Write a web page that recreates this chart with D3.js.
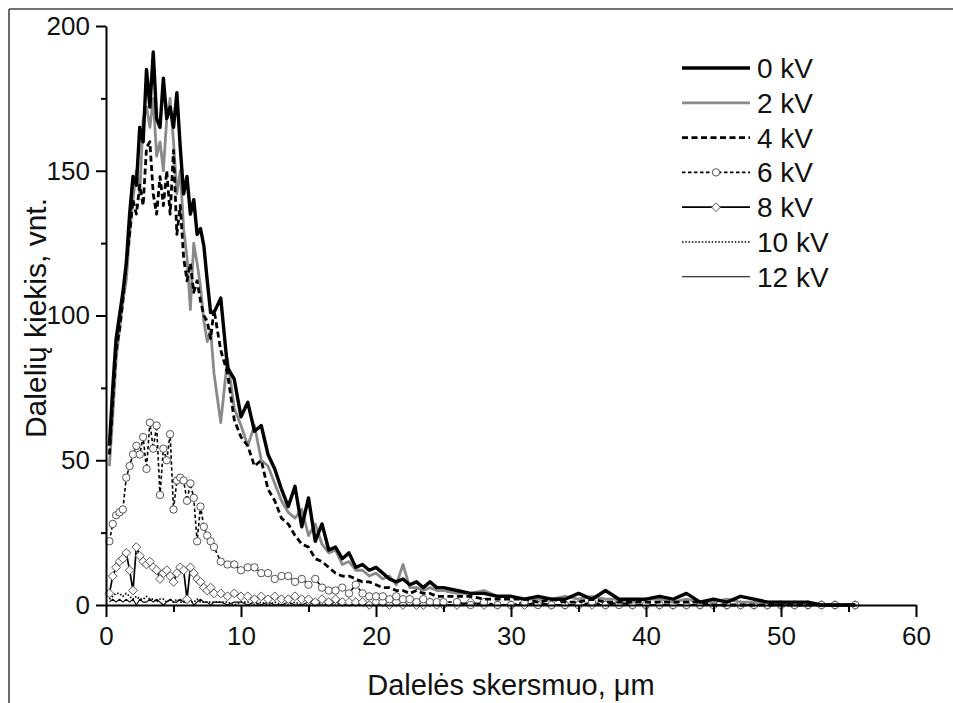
<!DOCTYPE html>
<html>
<head>
<meta charset="utf-8">
<script src="https://cdn.jsdelivr.net/npm/d3@7"></script>
<style>
  html, body { margin: 0; padding: 0; background: #fff; }
  svg text { font-family: "Liberation Sans", Arial, sans-serif; fill: #111; }
</style>
</head>
<body>
<svg id="chart" width="953" height="703"></svg>
<script>
// ---- data ----
const diameter = [0.25,0.5,0.75,1,1.25,1.5,1.75,2,2.25,2.5,2.75,3,3.25,3.5,3.75,4,4.25,4.5,4.75,5,5.25,5.5,5.75,6,6.25,6.5,6.75,7,7.25,7.5,7.75,8,
  8.5,9,9.5,10,10.5,11,11.5,12,12.5,13,13.5,14,14.5,15,15.5,16,16.5,17,17.5,18,18.5,19,19.5,20,20.5,21,21.5,22,22.5,23,23.5,24,24.5,25,
  26,27,28,29,30,31,32,33,34,35,36,37,38,39,40,41,42,43,44,45,46,47,48,49,50,51,52,53,54,55.5];

const kv0 = [55,75,92,100,108,118,135,148,145,165,160,185,172,191,168,165,182,168,172,165,177,158,142,148,135,140,128,130,124,112,101,101,
  106,82,78,65,70,60,62,52,47,40,34,41,27,37,22,28,19,20,16,18,13,14,12,13,11,9,8,9,7,8,6,8,6,6,
  5,4,4,3,3,2,3,2,2,4,2,5,2,2,2,3,2,4,1,2,1,3,2,1,1,1,1,0,0,0];
const kv2 = [48,65,85,95,105,112,128,140,150,142,168,172,165,175,155,160,150,168,175,160,142,150,130,120,102,125,118,110,98,91,95,80,
  63,85,68,62,55,62,50,48,42,36,32,30,33,24,28,21,18,19,14,15,12,12,10,11,9,10,7,14,6,6,5,6,5,5,
  4,4,5,3,3,2,2,2,3,2,3,2,2,1,2,2,1,2,1,1,2,1,1,1,1,0,0,0,0,0];
const kv4 = [52,70,88,95,105,118,128,140,135,145,138,158,160,142,135,148,138,150,135,157,128,138,120,112,118,108,112,105,100,98,92,102,
  88,80,64,58,55,48,50,40,36,30,28,24,21,20,16,15,13,11,10,10,9,8,8,7,6,6,5,5,4,5,4,4,3,3,
  3,3,2,2,2,2,1,2,1,1,2,1,1,1,1,1,1,1,1,0,0,0,0,0,0,0,0,0,0,0];
const kv6 = [22,28,31,32,33,44,48,52,55,52,58,47,63,54,62,38,54,50,59,33,43,44,43,36,42,37,22,34,27,24,22,20,
  15,14,14,12,13,13,11,11,9,10,10,8,9,7,9,6,5,5,6,4,7,4,3,3,3,2,3,2,2,1,2,1,1,1,
  1,0,1,0,0,1,0,0,0,0,1,0,0,0,0,0,0,0,0,0,0,0,0,0,0,0,0,0,0,0];
const kv8 = [4,10,13,15,16,18,12,5,20,17,15,14,15,13,12,9,11,12,10,8,11,13,12,2,13,11,9,8,6,5,6,4,
  4,3,4,3,3,2,3,2,3,2,2,3,2,2,1,2,1,2,1,1,1,1,0,1,1,0,1,0,1,0,0,1,0,0,
  0,1,0,0,0,0,1,0,0,0,0,0,1,0,0,0,0,0,0,0,0,0,0,0,0,0,0,0,0,0];
const kv10 = [2,3,4,4,3,4,3,2,3,2,2,3,2,2,1,2,2,1,2,1,2,1,1,2,1,1,2,1,1,1,1,1,
  1,1,0,1,1,0,1,0,1,0,0,1,0,0,0,1,0,0,0,0,0,0,0,0,0,0,0,0,0,0,0,0,0,0,
  0,0,0,0,0,0,0,0,0,0,0,0,0,0,0,0,0,0,0,0,0,0,0,0,0,0,0,0,0,0];
const kv12 = [1,2,1,2,1,2,1,2,0,2,1,1,2,1,2,1,0,1,2,1,1,2,1,1,2,0,1,2,1,1,0,1,
  1,0,1,1,0,1,0,1,0,0,1,0,0,1,0,0,0,1,0,0,0,0,0,0,0,0,0,0,0,0,0,0,0,0,
  0,0,0,0,0,0,0,0,0,0,0,0,0,0,0,0,0,0,0,0,0,0,0,0,0,0,0,0,0,0];

const seriesNames = ["0 kV","2 kV","4 kV","6 kV","8 kV","10 kV","12 kV"];
const xMajorTicks = [0,10,20,30,40,50,60];
const xMinorTicks = [5,15,25,35,45,55];
const yMajorTicks = [0,50,100,150,200];
const yMinorTicks = [25,75,125,175];
const xTitle = "Dalelės skersmuo, \u03bcm";
const yTitle = "Dalelių kiekis, vnt.";

// ---- styles (kept separate from the data) ----
const styles = {
  "0 kV":  {data: kv0,  color: "#000", width: 3.4, dash: null},
  "2 kV":  {data: kv2,  color: "#8a8a8a", width: 2.8, dash: null},
  "4 kV":  {data: kv4,  color: "#000", width: 2.8, dash: "6,3.5"},
  "6 kV":  {data: kv6,  color: "#000", width: 1.6, dash: "3.5,2.5", marker: "circle"},
  "8 kV":  {data: kv8,  color: "#000", width: 1.7, dash: null, marker: "diamond"},
  "10 kV": {data: kv10, color: "#000", width: 1.7, dash: "1.5,1.8"},
  "12 kV": {data: kv12, color: "#000", width: 1.1, dash: null}
};
const drawOrder = ["12 kV","10 kV","8 kV","6 kV","2 kV","4 kV","0 kV"];

const svg = d3.select("#chart");

// frame
svg.append("line").attr("x1", 9).attr("y1", 9).attr("x2", 953).attr("y2", 9)
  .attr("stroke", "#444").attr("stroke-width", 1.6);
svg.append("line").attr("x1", 9).attr("y1", 9).attr("x2", 9).attr("y2", 703)
  .attr("stroke", "#444").attr("stroke-width", 1.6);

const x = d3.scaleLinear().domain([0, 60]).range([106, 916]);
const y = d3.scaleLinear().domain([0, 200]).range([605, 26]);

const plot = svg.append("g");

const line = d3.line().x(d => x(d[0])).y(d => y(d[1]));

drawOrder.forEach(name => {
  const s = styles[name];
  const pts = diameter.map((d, i) => [d, s.data[i]]);
  const g = plot.append("g");
  g.append("path").datum(pts)
    .attr("d", line)
    .attr("fill", "none")
    .attr("stroke", s.color)
    .attr("stroke-width", s.width)
    .attr("stroke-linejoin", "round")
    .attr("stroke-dasharray", s.dash);
  if (s.marker === "circle") {
    g.selectAll("circle").data(pts).join("circle")
      .attr("cx", d => x(d[0])).attr("cy", d => y(d[1])).attr("r", 3.7)
      .attr("fill", "#fff").attr("stroke", "#555").attr("stroke-width", 1);
  } else if (s.marker === "diamond") {
    g.selectAll("path.m").data(pts).join("path").attr("class", "m")
      .attr("d", "M0,-4.4L4.4,0L0,4.4L-4.4,0Z")
      .attr("transform", d => `translate(${x(d[0])},${y(d[1])})`)
      .attr("fill", "#fff").attr("stroke", "#555").attr("stroke-width", 1);
  }
});

// axes
const fontTick = 26;
const xAxisG = svg.append("g").attr("transform", "translate(0,605)");
xAxisG.call(d3.axisBottom(x).tickValues(xMajorTicks).tickSize(12).tickSizeOuter(0).tickPadding(10).tickFormat(d3.format("d")));
svg.append("g").attr("transform", "translate(0,605)")
  .call(d3.axisBottom(x).tickValues(xMinorTicks).tickSize(7).tickSizeOuter(0).tickFormat(""))
  .select(".domain").remove();

const yAxisG = svg.append("g").attr("transform", "translate(106,0)");
yAxisG.call(d3.axisLeft(y).tickValues(yMajorTicks).tickSize(10).tickSizeOuter(0).tickPadding(6).tickFormat(d3.format("d")));
svg.append("g").attr("transform", "translate(106,0)")
  .call(d3.axisLeft(y).tickValues(yMinorTicks).tickSize(5).tickSizeOuter(0).tickFormat(""))
  .select(".domain").remove();

svg.selectAll(".domain").attr("stroke", "#000").attr("stroke-width", 2);
svg.selectAll(".tick line").attr("stroke", "#000").attr("stroke-width", 2);
svg.selectAll(".tick text").attr("font-size", fontTick)
  .attr("font-family", "'Liberation Sans', Arial, sans-serif").attr("fill", "#111");

// axis titles
svg.append("text").attr("x", 511).attr("y", 695).attr("text-anchor", "middle")
  .attr("font-size", 29).text(xTitle);
svg.append("text").attr("transform", "translate(46,318) rotate(-90)").attr("text-anchor", "middle")
  .attr("font-size", 30).text(yTitle);

// legend
const legend = svg.append("g");
seriesNames.forEach((name, i) => {
  const s = styles[name];
  const ly = 68 + i * 34.8;
  const g = legend.append("g");
  g.append("line").attr("x1", 682).attr("x2", 750).attr("y1", ly).attr("y2", ly)
    .attr("stroke", s.color).attr("stroke-width", s.width).attr("stroke-dasharray", s.dash);
  if (s.marker === "circle") {
    g.append("circle").attr("cx", 716).attr("cy", ly).attr("r", 3.7)
      .attr("fill", "#fff").attr("stroke", "#555").attr("stroke-width", 1);
  } else if (s.marker === "diamond") {
    g.append("path").attr("d", "M0,-4.4L4.4,0L0,4.4L-4.4,0Z")
      .attr("transform", `translate(716,${ly})`)
      .attr("fill", "#fff").attr("stroke", "#555").attr("stroke-width", 1);
  }
  g.append("text").attr("x", 757).attr("y", ly + 10).attr("font-size", 28).text(name);
});
</script>
</body>
</html>
